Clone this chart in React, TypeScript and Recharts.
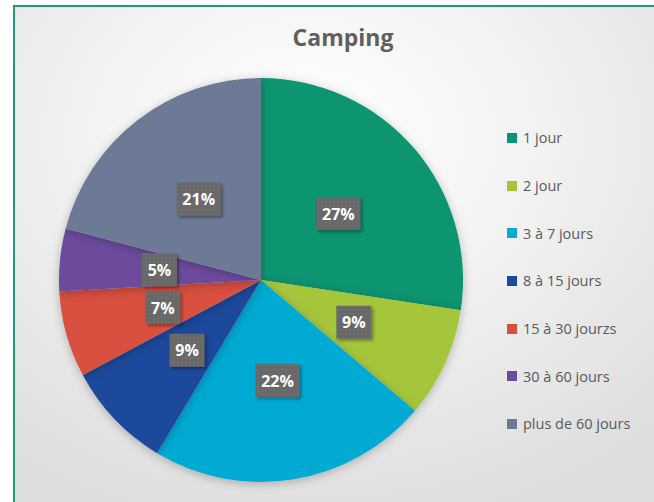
import React from 'react';
import { PieChart, Pie, Cell, Legend } from 'recharts';

const categories = ['1 jour', '2 jour', '3 à 7 jours', '8 à 15 jours', '15 à 30 jourzs', '30 à 60 jours', 'plus de 60 jours'];
const shares = [27.4, 8.8, 22.4, 8.6, 6.9, 5.0, 20.9];
const colors = ['#079470', '#a5c63b', '#06aad3', '#1b4a9c', '#d94f3f', '#6c4c9d', '#6c7a96'];

const data = categories.map((name, i) => ({ name, value: shares[i] }));

const RAD = Math.PI / 180;

const renderLabel = (props: any) => {
  const { cx, cy, midAngle, outerRadius, percent } = props;
  const r = outerRadius * 0.505;
  const x = cx + r * Math.cos(-midAngle * RAD);
  const y = cy + r * Math.sin(-midAngle * RAD);
  const txt = `${Math.round(percent * 100)}%`;
  const w = txt.length > 2 ? 44 : 35;
  const h = 33;
  return (
    <g>
      <rect x={x - w / 2} y={y - h / 2} width={w} height={h} fill="url(#dots)" filter="url(#boxShadow)" />
      <text
        x={x}
        y={y}
        textAnchor="middle"
        dominantBaseline="central"
        fill="#ffffff"
        fontSize={16}
        fontWeight="bold"
        fontFamily="'Open Sans', sans-serif"
      >
        {txt}
      </text>
    </g>
  );
};

const renderLegend = () => (
  <div style={{ fontFamily: "'Open Sans', sans-serif", fontSize: 14.5, color: '#595959' }}>
    {data.map((d, i) => (
      <div key={d.name} style={{ display: 'flex', alignItems: 'center', height: 47.7 }}>
        <span style={{ display: 'inline-block', width: 10, height: 10, background: colors[i], marginRight: 6 }} />
        <span>{d.name}</span>
      </div>
    ))}
  </div>
);

export default function App() {
  return (
    <div style={{ position: 'fixed', left: 0, top: 0, width: 654, height: 502, overflow: 'hidden', background: '#fff' }}>
      <div
        style={{
          position: 'absolute',
          left: 13,
          top: 5,
          width: 660,
          height: 520,
          border: '2px solid #1f9a78',
          background: 'radial-gradient(ellipse 75% 75% at 45% 25%, #ffffff 0%, #f4f4f4 40%, #dedede 100%)',
        }}
      />
      <div
        style={{
          position: 'absolute',
          left: 13,
          width: 660,
          top: 21,
          textAlign: 'center',
          fontFamily: "'Open Sans', sans-serif",
          fontWeight: 'bold',
          fontSize: 23,
          color: '#5f5f5f',
        }}
      >
        Camping
      </div>
      <div style={{ position: 'absolute', left: 0, top: 0 }}>
        <PieChart width={654} height={502} margin={{ top: 0, right: 0, bottom: 0, left: 0 }}>
          <defs>
            <pattern id="dots" width="4" height="4" patternUnits="userSpaceOnUse">
              <rect width="4" height="4" fill="#676767" />
              <circle cx="2" cy="2" r="0.7" fill="#7a7a7a" />
            </pattern>
            <filter id="boxShadow" x="-30%" y="-30%" width="160%" height="160%">
              <feDropShadow dx="2" dy="2" stdDeviation="1.5" floodColor="#000" floodOpacity="0.35" />
            </filter>
            <filter id="pieShadow" x="-20%" y="-20%" width="140%" height="140%">
              <feDropShadow dx="0" dy="2" stdDeviation="5" floodColor="#000" floodOpacity="0.25" />
            </filter>
          </defs>
          <Pie
            data={data}
            dataKey="value"
            nameKey="name"
            cx={261}
            cy={280}
            outerRadius={202}
            startAngle={90}
            endAngle={-270}
            stroke="none"
            labelLine={false}
            label={renderLabel}
            isAnimationActive={false}
            style={{ filter: 'url(#pieShadow)' }}
          >
            {data.map((d, i) => (
              <Cell key={d.name} fill={colors[i]} />
            ))}
          </Pie>
          <Legend
            layout="vertical"
            content={renderLegend}
            wrapperStyle={{ position: 'absolute', left: 507, top: 114, width: 150 }}
          />
        </PieChart>
      </div>
    </div>
  );
}
